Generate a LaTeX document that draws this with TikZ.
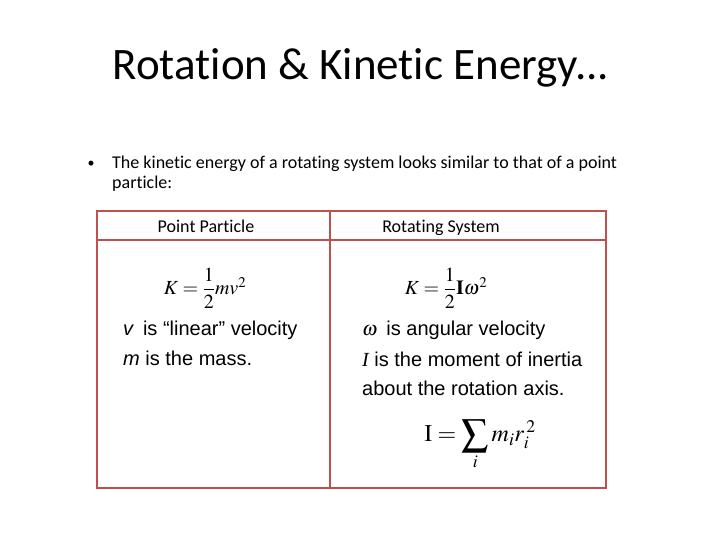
\documentclass[tikz,border=0pt]{standalone}
\usepackage{amsmath}
\usepackage{mathptmx}
\usepackage{graphicx}
\usepackage{fontspec}
\setmainfont{Carlito}[Ligatures={NoCommon,NoDiscretionary,NoRare}]
\newfontfamily\arialf{Liberation Sans}
\newfontfamily\timesf{Liberation Serif}
\definecolor{tred}{RGB}{192,80,77}
\begin{document}
\begin{tikzpicture}[x=1pt,y=-1pt,
  txt/.style={anchor=west,inner sep=0pt,font=\fontsize{18}{21}\selectfont},
  ar/.style={anchor=west,inner sep=0pt,font=\arialf\fontsize{20}{24}\selectfont},
  hd/.style={anchor=base,inner sep=0pt,font=\fontsize{18}{21}\selectfont}]
\useasboundingbox (0,0) rectangle (720,540);
\node[inner sep=0pt,font=\fontsize{45}{52}\selectfont] (title) at (361,68) {Rotation \& Kinetic Energy{.}{.}{.}};
\node[inner sep=0pt,font=\fontsize{14}{16}\selectfont] (bul) at (91,164) {•};
\node[txt] (l1) at (112,164) {The kinetic energy of a rotating system looks similar to that of a point};
\node[txt] (l2) at (112,184) {particle:};
\draw[tred,line width=1.5pt] (97,211) rectangle (606,488);
\draw[tred,line width=1.5pt] (330,211) -- (330,488);
\draw[tred,line width=1.5pt] (97,240) -- (606,240);
\node[hd] (h1) at (206,233) {Point Particle};
\node[hd] (h2) at (441,233) {Rotating System};
\node[inner sep=0pt,font=\fontsize{20}{24}\selectfont] (f1) at (205,288) {$K=\dfrac{1}{2}mv^2$};
\node[inner sep=0pt,font=\fontsize{20}{24}\selectfont] (f2) at (446,288) {$K=\dfrac{1}{2}\mathbf{I}\omega^2$};
\node[ar] (a1) at (123,330) {\textit{v}\, is “linear” velocity};
\node[ar] (a2) at (123,358) {\textit{m} is the mass.};
\node[ar] (b1) at (362,330) {$\omega$\, is angular velocity};
\node[ar] (b2) at (362,359) {{\timesf\itshape I} is the moment of inertia};
\node[ar] (b3) at (362,388) {about the rotation axis.};
\node[inner sep=0pt,font=\fontsize{24}{28}\selectfont] (f3) at (480,445) {$\mathrm{I}=\mathop{\raisebox{-0.35ex}{\scalebox{1.6}{$\sum$}}}\limits_i m_i r_i^{\,2}$};
\end{tikzpicture}
\end{document}
